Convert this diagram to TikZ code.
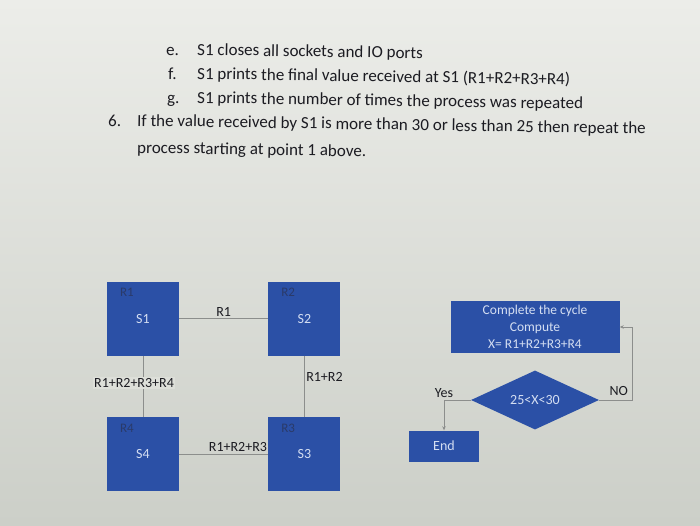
\documentclass[tikz,border=0pt]{standalone}
\usepackage{fontspec}
\setmainfont{Carlito}
\usetikzlibrary{shapes.geometric, arrows.meta, positioning}

\definecolor{boxblue}{RGB}{43,80,166}
\definecolor{boxtext}{RGB}{212,222,242}
\definecolor{boxtag}{RGB}{42,58,105}
\definecolor{inktext}{RGB}{28,28,34}
\definecolor{linkgray}{RGB}{140,142,140}
\definecolor{screentop}{RGB}{236,237,233}
\definecolor{screenbot}{RGB}{204,207,200}
\definecolor{screenmid}{RGB}{221,223,217}

\begin{document}
\begin{tikzpicture}[
        x=1pt, y=-1pt,
        node distance=61pt and 89pt, % gaps between the servers
        font=\fontsize{14}{16}\selectfont,
        textline/.style={anchor=base west, inner sep=0pt, text=inktext, font=\fontsize{17}{20}\selectfont, rotate=-0.9},
        server/.style={fill=boxblue, minimum width=72pt, minimum height=74pt, inner sep=0pt, text=boxtext, font=\fontsize{14}{16}\selectfont},
        tag/.style={text=boxtag, font=\fontsize{13}{15}\selectfont, inner sep=0pt},
        link/.style={draw=linkgray, line width=0.7pt},
        lbl/.style={text=inktext, inner sep=1.5pt, font=\fontsize{14}{16}\selectfont},
        stepbox/.style={fill=boxblue, text=boxtext, align=center, inner sep=0pt, font=\fontsize{13.5}{17}\selectfont},
        test/.style={diamond, fill=boxblue, text=boxtext, inner sep=0pt, minimum width=128pt, minimum height=59pt, font=\fontsize{14}{16}\selectfont},
        flow/.style={draw=linkgray, line width=0.7pt, -{Stealth[length=4pt, width=3.5pt]}}
    ]

    % --- Screen ---
    \shade[top color=screentop, bottom color=screenbot] (0,0) rectangle (700,525);
    \useasboundingbox (0,0) rectangle (700,525);

    % --- Text of the task ---
    \node[textline] (e1) at (166,55) {e.};
    \node[textline] (e2) at (197,55) {S1 closes all sockets and IO ports};
    \node[textline] (f1) at (168,79) {f.};
    \node[textline] (f2) at (197,79) {S1 prints the final value received at S1 (R1+R2+R3+R4)};
    \node[textline] (g1) at (167,103) {g.};
    \node[textline] (g2) at (197,103) {S1 prints the number of times the process was repeated};
    \node[textline] (p1) at (108,126) {6.};
    \node[textline] (p2) at (137,126) {If the value received by S1 is more than 30 or less than 25 then repeat the};
    \node[textline] (p3) at (137,153) {process starting at point 1 above.};

    % --- Servers ---
    \node[server] (s1) at (143,318.5) {S1};
    \node[server, right=of s1] (s2) {S2};
    \node[server, below=of s1] (s4) {S4};
    \node[server, right=of s4] (s3) {S3};
    \foreach \s/\r in {s1/R1, s2/R2, s3/R3, s4/R4}
        \node[tag, anchor=north west] at ([xshift=13pt, yshift=-7pt]\s.north west) {\r};

    % --- Ring of connections ---
    \draw[link] (s1) -- node[lbl, above] {R1} (s2);
    \draw[link] (s2.south) -- node[lbl, right, pos=0.35] {R1+R2} (s2.south |- s3.north);
    \draw[link] (s3) -- node[lbl, above, pos=0.34] {R1+R2+R3} (s4);
    \draw[link] (s4.north) -- node[lbl, fill=screenmid, pos=0.55, xshift=-9pt] {R1+R2+R3+R4} (s4.north |- s1.south);

    % --- Flow chart ---
    \node[stepbox, minimum width=169pt, minimum height=52pt] (compute) at (535,327) {Complete the cycle\\Compute\\X= R1+R2+R3+R4};
    \node[test] (check) at (535,400) {25<X<30};
    \node[stepbox, minimum width=70pt, minimum height=31pt, font=\fontsize{14}{16}\selectfont] (endbox) at (444,446) {End};

    \draw[flow] (check.west) -| node[lbl, pos=0.5, above, yshift=1pt] {Yes} (endbox.north);
    \draw[flow] (check.east) -- node[lbl, above, yshift=3pt, xshift=3pt] {NO} ++(33,0) |- (compute.east);

\end{tikzpicture}
\end{document}
